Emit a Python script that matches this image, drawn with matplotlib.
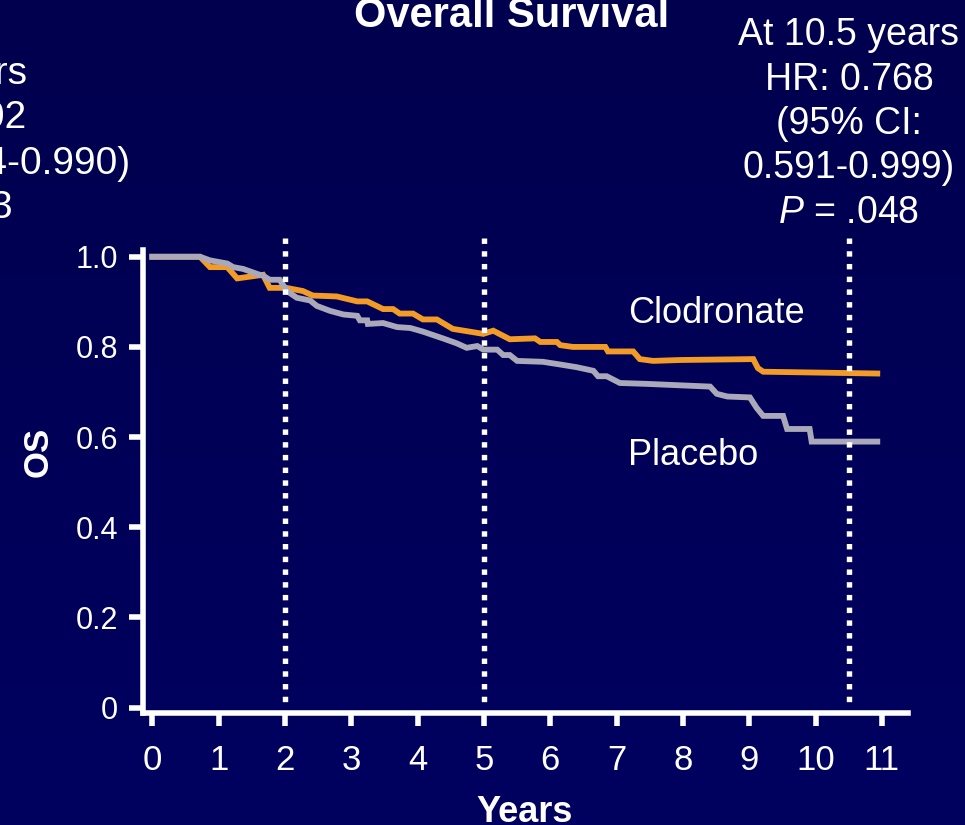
import numpy as np
import matplotlib
matplotlib.use("Agg")
import matplotlib.pyplot as plt

plt.rcParams["font.family"] = ["Liberation Sans", "DejaVu Sans"]
plt.rcParams["mathtext.fontset"] = "custom"
plt.rcParams["mathtext.rm"] = "Liberation Sans"
plt.rcParams["mathtext.it"] = "Liberation Sans:italic"

# Kaplan-Meier curves
clod_years = [0, 0.72, 0.87, 1.13, 1.28, 1.67, 1.77, 2.02, 2.27, 2.42, 2.78, 3.09, 3.24,
              3.48, 3.63, 3.73, 3.93, 4.08, 4.29, 4.53, 4.99, 5.14, 5.39, 5.77, 5.85,
              6.10, 6.15, 6.34, 6.83, 6.87, 7.25, 7.35, 7.55, 7.96, 9.06, 9.13, 9.21, 10.93]
clod_os = [1.0, 1.0, 0.977, 0.977, 0.952, 0.960, 0.931, 0.931, 0.924, 0.914, 0.912, 0.901,
           0.901, 0.884, 0.884, 0.874, 0.874, 0.861, 0.861, 0.840, 0.829, 0.836, 0.817,
           0.819, 0.811, 0.811, 0.804, 0.800, 0.800, 0.790, 0.790, 0.773, 0.769, 0.771,
           0.773, 0.753, 0.745, 0.741]

plac_years = [0, 0.72, 0.87, 1.13, 1.22, 1.37, 1.58, 1.67, 1.77, 1.92, 2.03, 2.18, 2.38,
              2.48, 2.68, 2.88, 3.09, 3.13, 3.24, 3.25, 3.48, 3.69, 3.89, 4.08, 4.38,
              4.59, 4.74, 4.90, 4.99, 5.20, 5.29, 5.39, 5.50, 5.89, 6.15, 6.40, 6.65,
              6.72, 6.85, 7.05, 7.46, 8.41, 8.51, 8.67, 9.01, 9.11, 9.21, 9.51, 9.57,
              9.91, 9.94, 10.93]
plac_os = [1.0, 1.0, 0.992, 0.985, 0.977, 0.973, 0.962, 0.958, 0.949, 0.949, 0.924, 0.909,
           0.903, 0.891, 0.880, 0.872, 0.869, 0.859, 0.859, 0.851, 0.853, 0.844, 0.842,
           0.834, 0.819, 0.808, 0.798, 0.802, 0.794, 0.794, 0.782, 0.782, 0.769, 0.767,
           0.761, 0.755, 0.747, 0.735, 0.735, 0.720, 0.718, 0.712, 0.696, 0.690, 0.688,
           0.665, 0.647, 0.647, 0.618, 0.618, 0.590, 0.590]

landmark_years = [2, 5, 10.5]
x_ticks = list(range(0, 12))
y_ticks = [0, 0.2, 0.4, 0.6, 0.8, 1.0]
y_tick_labels = ["0", "0.2", "0.4", "0.6", "0.8", "1.0"]

right_note = ["At 10.5 years", "HR: 0.768", "(95% CI:", "0.591-0.999)", "$P$ = .048"]
left_note = ["At 5 years", "HR: 0.802", "(95% CI: 0.654-0.990)", "$P$ = .043"]

W, H = 965, 825
fig = plt.figure(figsize=(W / 100, H / 100), dpi=100)

# navy gradient background
bg = fig.add_axes([0, 0, 1, 1], zorder=-10)
grad = np.linspace(0, 1, 256).reshape(-1, 1)
top = np.array([0, 0, 78]) / 255
bot = np.array([0, 0, 96]) / 255
img = top + (bot - top) * grad[:, :, None]
bg.imshow(img, aspect="auto", extent=[0, 1, 0, 1])
bg.axis("off")

ax = fig.add_axes([143 / W, 1 - 713 / H, (908 - 143) / W, (713 - 250) / H])
ax.set_facecolor("none")

ax.plot(clod_years, clod_os, color="#F29B27", lw=4.2, solid_joinstyle="miter", zorder=3)
ax.plot(plac_years, plac_os, color="#A9A9BA", lw=4.2, solid_joinstyle="miter", zorder=4)

for yr in landmark_years:
    ax.plot([yr, yr], [1.042, 0.005], color="white", lw=3.9,
            linestyle=(0, (1.0, 1.35)), dash_capstyle="butt", clip_on=False, zorder=5)

ax.set_xlim(-0.14, 11.393)
ax.set_ylim(-0.012, 1.015)

for s in ["top", "right"]:
    ax.spines[s].set_visible(False)
for s in ["left", "bottom"]:
    ax.spines[s].set_color("white")
    ax.spines[s].set_linewidth(4)

ax.set_xticks(x_ticks)
ax.set_yticks(y_ticks)
ax.set_yticklabels(y_tick_labels)
ax.tick_params(axis="x", colors="white", length=9.5, width=4, pad=13, labelsize=25)
ax.tick_params(axis="y", colors="white", length=10, width=4, pad=8, labelsize=22)

ax.text(7.17, 0.854, "Clodronate", color="white", fontsize=26, va="baseline", ha="left")
ax.text(7.17, 0.538, "Placebo", color="white", fontsize=26, va="baseline", ha="left")

fig.text(38 / W, 1 - 452 / H, "OS", color="white", fontsize=25, fontweight="bold",
         rotation=90, ha="center", va="center")
fig.text(525 / W, 3 / H, "Years", color="white", fontsize=26, fontweight="bold",
         ha="center", va="baseline")
fig.text(512 / W, 1 - 27 / H, "Overall Survival", color="white", fontsize=30,
         fontweight="bold", ha="center", va="baseline")

for i, line in enumerate(right_note):
    fig.text(849 / W, 1 - (45 + 44.5 * i) / H, line, color="white", fontsize=27,
             ha="center", va="baseline")
for i, line in enumerate(left_note):
    fig.text(-61 / W, 1 - (83.5 + 45 * i) / H, line, color="white", fontsize=28,
             ha="center", va="baseline")

fig.savefig("out.png", dpi=100, facecolor="#000055")
